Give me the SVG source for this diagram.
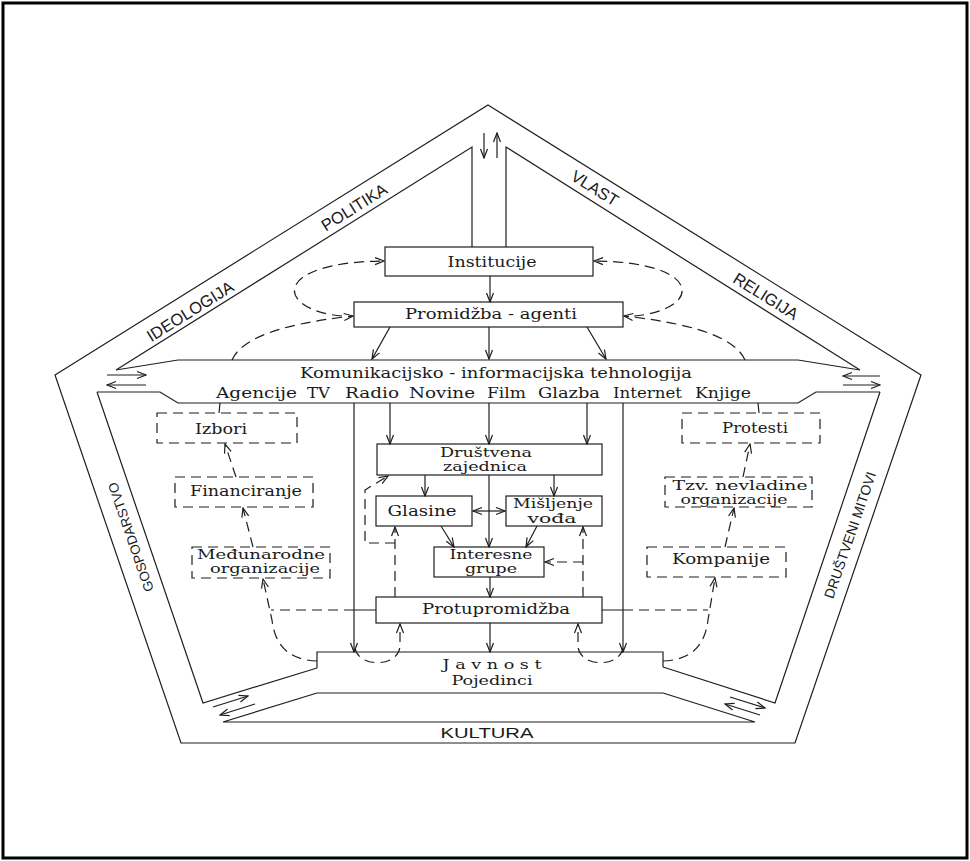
<svg xmlns="http://www.w3.org/2000/svg" width="970" height="861" viewBox="0 0 970 861">
<defs>
<style>
.ln{fill:none;stroke:#1e1e1e;stroke-width:1.2}
.dl{fill:none;stroke:#1e1e1e;stroke-width:1.2;stroke-dasharray:10 6}
.bx{fill:#fff;stroke:#1e1e1e;stroke-width:1.2}
.db{fill:#fff;stroke:#1e1e1e;stroke-width:1.2;stroke-dasharray:10 6}
.t{font-family:"DejaVu Serif","Liberation Serif",serif;font-size:15px;fill:#1a1a1a;text-anchor:middle}
.t2{font-family:"DejaVu Serif","Liberation Serif",serif;font-size:13px;fill:#1a1a1a;text-anchor:middle}
.s{font-family:"Liberation Sans",Arial,sans-serif;fill:#1a1a1a;text-anchor:middle;dominant-baseline:central}
</style>
<marker id="ah" viewBox="-10 -5 11 10" refX="0" refY="0" markerWidth="11" markerHeight="10" markerUnits="userSpaceOnUse" orient="auto-start-reverse">
<path d="M-9,-3.5 L0,0 L-9,3.5" fill="none" stroke="#1e1e1e" stroke-width="1.2" stroke-dasharray="none"/>
</marker>
</defs>

<g id="frame">
<rect x="0" y="0" width="970" height="861" fill="#fff"/>
<rect x="3" y="3" width="964" height="855" fill="none" stroke="#000" stroke-width="3"/>
<polygon class="ln" points="488,105 921,375 795,743 181,743 55,375"/>
<path class="ln" d="M472,247 V147 L116,370 M506,247 V147 L860,370 M97,392 L203,703 L317,668 M880,392 L775,703 L663,667 M223,722 L317,693 M663,693 L755,722 M223,722 H755"/>
</g>

<g id="labels">
<text class="s" font-size="16.5" transform="translate(190,311) rotate(-32)">IDEOLOGIJA</text>
<text class="s" font-size="16.5" transform="translate(354,207) rotate(-32)">POLITIKA</text>
<text class="s" font-size="16.5" transform="translate(595,188) rotate(32)">VLAST</text>
<text class="s" font-size="16.5" transform="translate(766,296) rotate(32)">RELIGIJA</text>
<text class="s" font-size="13.5" transform="translate(131,537) rotate(-109)">GOSPODARSTVO</text>
<text class="s" font-size="14" transform="translate(850,535) rotate(-71)">DRUŠTVENI MITOVI</text>
<text x="487" y="738" font-family="Liberation Sans, Arial, sans-serif" font-size="15.5" fill="#1a1a1a" text-anchor="middle" textLength="93" lengthAdjust="spacingAndGlyphs">KULTURA</text>
</g>

<g id="institucije">
<rect class="bx" x="385" y="247" width="208" height="29"/>
<text class="t" x="492" y="267" textLength="89" lengthAdjust="spacingAndGlyphs">Institucije</text>
</g>

<g id="promidzba">
<rect class="bx" x="354" y="302" width="269" height="25"/>
<text class="t" x="491" y="319" textLength="172" lengthAdjust="spacingAndGlyphs">Promidžba - agenti</text>
</g>

<g id="komunikacije">
<path d="M116,370 L178,360 H798 L860,370 L880,392 H816 L798,403 H178 L160,392 H97 Z" fill="#fff" stroke="none"/>
<path class="ln" d="M116,370 L178,360 H798 L860,370"/>
<path class="ln" d="M97,392 H160 L178,403 H798 L816,392 H880"/>
<text class="t" x="496" y="378" textLength="392" lengthAdjust="spacingAndGlyphs">Komunikacijsko - informacijska tehnologija</text>
<text class="t" y="398" style="text-anchor:start"><tspan x="216" textLength="81" lengthAdjust="spacingAndGlyphs">Agencije</tspan> <tspan x="307" textLength="23" lengthAdjust="spacingAndGlyphs">TV</tspan> <tspan x="345" textLength="54" lengthAdjust="spacingAndGlyphs">Radio</tspan> <tspan x="409" textLength="66" lengthAdjust="spacingAndGlyphs">Novine</tspan> <tspan x="487" textLength="39" lengthAdjust="spacingAndGlyphs">Film</tspan> <tspan x="538" textLength="62" lengthAdjust="spacingAndGlyphs">Glazba</tspan> <tspan x="613" textLength="69" lengthAdjust="spacingAndGlyphs">Internet</tspan> <tspan x="695" textLength="56" lengthAdjust="spacingAndGlyphs">Knjige</tspan></text>
</g>

<g id="izbori">
<rect class="db" x="157" y="413" width="140" height="30"/>
<text class="t" x="221" y="434" textLength="52" lengthAdjust="spacingAndGlyphs">Izbori</text>
</g>
<g id="financiranje">
<rect class="db" x="175" y="477" width="138" height="30"/>
<text class="t" x="246" y="496" textLength="112" lengthAdjust="spacingAndGlyphs">Financiranje</text>
</g>
<g id="medjunarodne">
<rect class="db" x="192" y="547" width="138" height="31"/>
<text class="t2" x="261" y="559" textLength="128" lengthAdjust="spacingAndGlyphs">Međunarodne</text>
<text class="t2" x="265" y="573" textLength="110" lengthAdjust="spacingAndGlyphs">organizacije</text>
</g>
<g id="protesti">
<rect class="db" x="682" y="413" width="138" height="30"/>
<text class="t" x="755" y="433" textLength="66" lengthAdjust="spacingAndGlyphs">Protesti</text>
</g>
<g id="nevladine">
<rect class="db" x="665" y="477" width="147" height="30"/>
<text class="t2" x="740" y="490" textLength="135" lengthAdjust="spacingAndGlyphs">Tzv. nevladine</text>
<text class="t2" x="734" y="504" textLength="107" lengthAdjust="spacingAndGlyphs">organizacije</text>
</g>
<g id="kompanije">
<rect class="db" x="647" y="547" width="139" height="30"/>
<text class="t" x="721" y="564" textLength="98" lengthAdjust="spacingAndGlyphs">Kompanije</text>
</g>

<g id="drustvena">
<rect class="bx" x="377" y="444" width="225" height="31"/>
<text class="t2" x="486" y="457" textLength="92" lengthAdjust="spacingAndGlyphs">Društvena</text>
<text class="t2" x="485" y="471" textLength="84" lengthAdjust="spacingAndGlyphs">zajednica</text>
</g>
<g id="glasine">
<rect class="bx" x="376" y="496" width="96" height="30"/>
<text class="t" x="422" y="516" textLength="69" lengthAdjust="spacingAndGlyphs">Glasine</text>
</g>
<g id="misljenje">
<rect class="bx" x="506" y="496" width="96" height="30"/>
<text class="t2" x="553" y="508" textLength="80" lengthAdjust="spacingAndGlyphs">Mišljenje</text>
<text class="t2" x="552" y="523" textLength="49" lengthAdjust="spacingAndGlyphs">vođa</text>
</g>
<g id="interesne">
<rect class="bx" x="434" y="547" width="110" height="30"/>
<text class="t2" x="491" y="559" textLength="83" lengthAdjust="spacingAndGlyphs">Interesne</text>
<text class="t2" x="491" y="573" textLength="52" lengthAdjust="spacingAndGlyphs">grupe</text>
</g>
<g id="protupromidzba">
<rect class="bx" x="376" y="597" width="226" height="26"/>
<text class="t" x="496" y="614" textLength="148" lengthAdjust="spacingAndGlyphs">Protupromidžba</text>
</g>
<g id="javnost">
<path class="ln" d="M317,668 V652 H663 V667 M317,693 H663"/>
<text class="t2" x="492" y="669" textLength="99" lengthAdjust="spacingAndGlyphs">J a v n o s t</text>
<text class="t2" x="492" y="685" textLength="81" lengthAdjust="spacingAndGlyphs">Pojedinci</text>
</g>

<g id="connectors">
<g class="ln" marker-end="url(#ah)">
<path d="M484,133 V158"/>
<path d="M497,158 V133"/>
<path d="M490,276 V302"/>
<path d="M390,327 L372,359"/>
<path d="M489,327 V359"/>
<path d="M587,327 L606,359"/>
<path d="M390,403 V444"/>
<path d="M489,403 V444"/>
<path d="M587,403 V444"/>
<path d="M354,403 V652"/>
<path d="M623,403 V652"/>
<path d="M425,475 V496"/>
<path d="M554,475 V496"/>
<path d="M489,475 V547"/>
<path d="M441,526 L454,547"/>
<path d="M537,526 L526,547"/>
<path d="M490,577 V597"/>
<path d="M490,623 V652"/>
<path d="M107,375 H146"/>
<path d="M146,385 H107"/>
<path d="M880,376 H843"/>
<path d="M843,385 H880"/>
<path d="M213,707 L248,696"/>
<path d="M255,704 L220,715"/>
<path d="M730,697 L765,708"/>
<path d="M760,715 L725,704"/>
</g>
<path class="ln" d="M473,511 H505" marker-start="url(#ah)" marker-end="url(#ah)"/>
<path class="ln" d="M376,610 H354 M602,610 H623 M219,413 L220,403 M759,413 L758,403"/>
<g class="dl" marker-end="url(#ah)">
<path d="M342,316 C275,310 270,262 384,261"/>
<path d="M634,316 C702,310 706,262 594,261"/>
<path d="M232,360 C240,342 270,325 353,316"/>
<path d="M745,360 C737,342 707,325 624,316"/>
<path d="M236,477 L225,444"/>
<path d="M253,547 L243,508"/>
<path d="M725,547 L734,508"/>
<path d="M743,477 L750,444"/>
<path d="M317,661 C288,660 275,645 272,620 L263,579"/>
<path d="M663,661 C692,660 705,645 708,620 L715,578"/>
<path d="M355,648 C358,668 400,668 400,645 L400,624"/>
<path d="M623,648 C620,668 578,668 578,645 L578,624"/>
<path d="M395,597 V527"/>
<path d="M583,597 V527"/>
<path d="M395,543 H365 V490 L388,476"/>
<path d="M583,562 H545"/>
</g>
<path class="dl" d="M354,610 H271 M623,610 H708"/>
</g>
</svg>
